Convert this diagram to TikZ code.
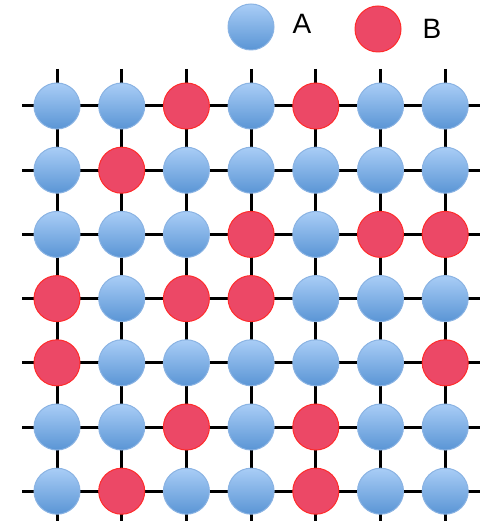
\documentclass[tikz,border=0pt]{standalone}
\usepackage{fontspec}
\setmainfont{Liberation Sans}
\definecolor{aTop}{HTML}{A9CDF6}
\definecolor{aBot}{HTML}{5A95D5}
\definecolor{aRim}{HTML}{8AB3E3}
\definecolor{bFill}{HTML}{EC4866}
\definecolor{bRim}{HTML}{FF2B2B}
\tikzset{
  site/.style={circle, minimum size=46pt, inner sep=0pt, line width=1pt},
  siteA/.style={site, draw=aRim, top color=aTop, bottom color=aBot},
  siteB/.style={site, draw=bRim, fill=bFill},
  label/.style={font=\fontsize{28}{30}\selectfont, inner sep=0pt}
}
\begin{document}
\begin{tikzpicture}[x=1pt, y=-1pt]
\useasboundingbox (0,0) rectangle (491,521);
% lattice bonds
\foreach \i in {0,...,6} {
  \draw[line width=3pt] (22,106+\i*64.2) -- (480,106+\i*64.2);
  \draw[line width=3pt] (57+\i*64.7,69) -- (57+\i*64.7,521);
}
% sites, row by row from the top
\foreach \r/\row in {0/{A,A,B,A,B,A,A}, 1/{A,B,A,A,A,A,A},
                     2/{A,A,A,B,A,B,B}, 3/{B,A,B,B,A,A,A},
                     4/{B,A,A,A,A,A,B}, 5/{A,A,B,A,B,A,A},
                     6/{A,B,A,A,B,A,A}}
  \foreach \t [count=\c from 0] in \row
    \node[site\t] (s\r\c) at (57+\c*64.7,106+\r*64.2) {};
% legend
\node[siteA] (legA) at (251,27) {};
\node[label] (labA) at (302,24) {A};
\node[siteB] (legB) at (378,29) {};
\node[label] (labB) at (432,29) {B};
\end{tikzpicture}
\end{document}
